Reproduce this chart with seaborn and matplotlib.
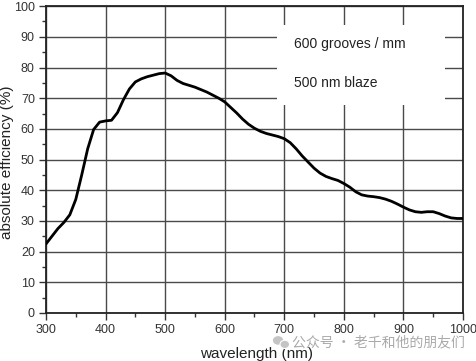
import matplotlib
matplotlib.use("Agg")
import matplotlib.pyplot as plt
import seaborn as sns
import pandas as pd
from matplotlib.ticker import MultipleLocator
from matplotlib.patches import Rectangle, Ellipse

# -----------------------------
# data
# -----------------------------
wavelength = [300, 310, 320, 330, 340, 350, 360, 370, 380, 390,
              400, 410, 420, 430, 440, 450, 460, 470, 480, 490,
              500, 510, 520, 530, 540, 550, 560, 570, 580, 590,
              600, 610, 620, 630, 640, 650, 660, 670, 680, 690,
              700, 710, 720, 730, 740, 750, 760, 770, 780, 790,
              800, 810, 820, 830, 840, 850, 860, 870, 880, 890,
              900, 910, 920, 930, 940, 950, 960, 970, 980, 990, 1000]
efficiency = [22.5, 25.0, 27.5, 29.5, 32.0, 37.0, 45.0, 53.5, 59.8, 62.2,
              62.6, 62.8, 65.3, 69.5, 73.0, 75.3, 76.3, 77.0, 77.5, 78.0,
              78.2, 77.3, 75.8, 74.8, 74.2, 73.6, 72.8, 72.0, 71.0, 70.0,
              68.8, 67.0, 65.2, 63.2, 61.5, 60.2, 59.2, 58.5, 58.0, 57.5,
              56.8, 55.5, 53.5, 51.2, 49.2, 47.2, 45.6, 44.5, 43.8, 43.2,
              42.2, 41.0, 39.5, 38.5, 38.1, 37.9, 37.6, 37.1, 36.4, 35.5,
              34.5, 33.6, 33.0, 32.8, 33.0, 33.0, 32.4, 31.6, 31.0, 30.8, 30.8]

annotations = ["600 grooves / mm", "500 nm blaze"]
watermark = "公众号 · 老千和他的朋友们"

df = pd.DataFrame({"wavelength": wavelength, "efficiency": efficiency})

# -----------------------------
# style
# -----------------------------
sns.set_style("white")
plt.rcParams["font.family"] = ["Liberation Sans", "DejaVu Sans"]

fig = plt.figure(figsize=(4.77, 3.61), dpi=100)
ax = fig.add_axes([0.0964, 0.133, 0.8742, 0.850])

sns.lineplot(data=df, x="wavelength", y="efficiency", ax=ax,
             color="black", linewidth=2.0, zorder=3)

ax.set_xlim(300, 1000)
ax.set_ylim(0, 100)
ax.xaxis.set_major_locator(MultipleLocator(100))
ax.xaxis.set_minor_locator(MultipleLocator(50))
ax.yaxis.set_major_locator(MultipleLocator(10))
ax.yaxis.set_minor_locator(MultipleLocator(5))

ax.grid(True, which="major", color="#4a4a4a", linewidth=1.0, zorder=1)
for s in ax.spines.values():
    s.set_color("#222222")
    s.set_linewidth(1.3)

ax.tick_params(which="major", direction="out", length=5, width=1,
               color="#333333", labelsize=9, labelcolor="#333333", pad=3,
               left=True, bottom=True)
ax.tick_params(which="minor", direction="out", length=3, width=1,
               color="#333333", left=True, bottom=True)

ax.set_xlabel("wavelength (nm)", fontsize=11, color="#222222")
ax.set_ylabel("absolute efficiency (%)", fontsize=11, color="#222222")
ax.xaxis.set_label_coords(0.505, -0.112)
ax.yaxis.set_label_coords(-0.077, 0.49)

# white box over the grid, then the two text lines
ax.add_patch(Rectangle((0.554, 0.678), 0.403, 0.26, transform=ax.transAxes,
                       facecolor="white", edgecolor="none", zorder=2))
ax.text(0.595, 0.875, annotations[0], transform=ax.transAxes, fontsize=10,
        color="#222222", ha="left", va="center", zorder=4)
ax.text(0.595, 0.75, annotations[1], transform=ax.transAxes, fontsize=10,
        color="#222222", ha="left", va="center", zorder=4)

# watermark
fig.patches.append(Ellipse((0.583, 0.057), 0.024, 0.027, transform=fig.transFigure,
                           facecolor="#c4c4c4", edgecolor="white", lw=0.8))
fig.patches.append(Ellipse((0.597, 0.046), 0.02, 0.023, transform=fig.transFigure,
                           facecolor="#c4c4c4", edgecolor="white", lw=0.8))
fig.text(0.613, 0.052, watermark, fontsize=10, color="#aaaaaa",
         family=["Noto Sans CJK SC", "DejaVu Sans"], ha="left", va="center")

plt.savefig("out.png", dpi=100)
